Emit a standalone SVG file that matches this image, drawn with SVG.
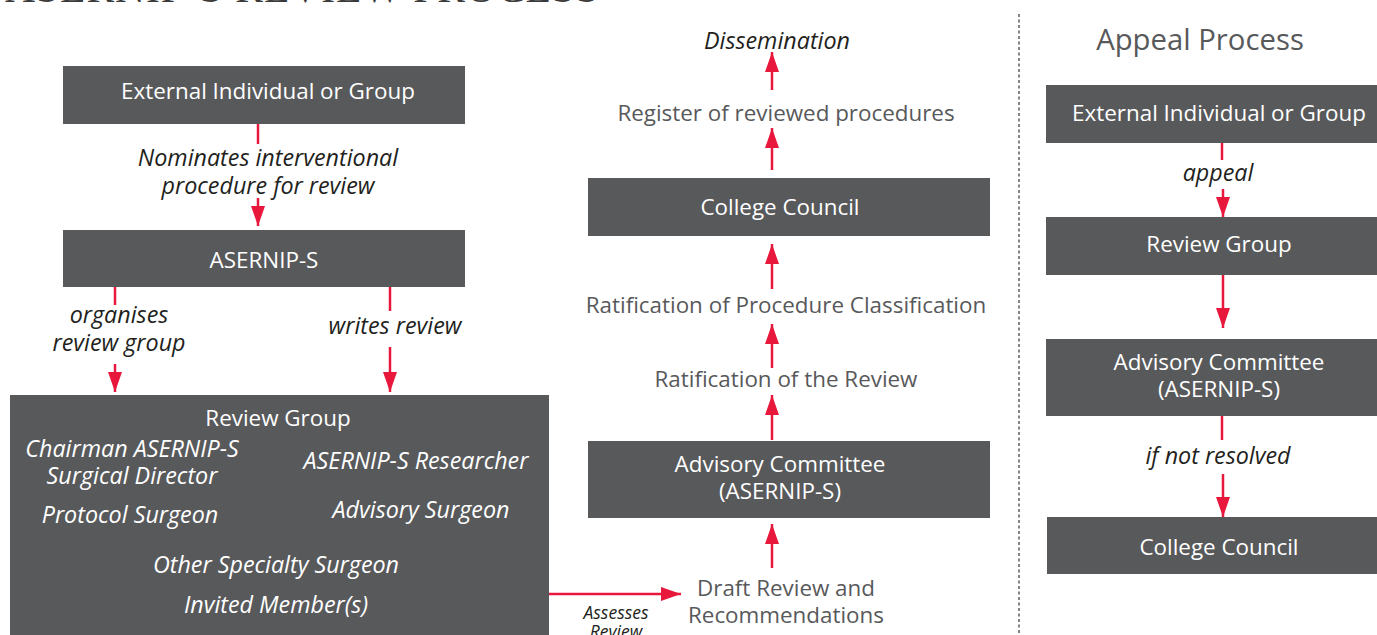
<svg xmlns="http://www.w3.org/2000/svg" width="1377" height="635" viewBox="0 0 1377 635">
<style>
.box{fill:#58595b}
.t{font-family:"Open Sans","Noto Sans","Liberation Sans",sans-serif;font-size:22.4px;text-anchor:middle}
.w{fill:#ffffff}
.g{fill:#58595b}
.i{font-style:italic;fill:#231f20;font-size:23.3px}
.iw{font-style:italic;fill:#ffffff;font-size:23.3px}
.ln{stroke:#e8183d;stroke-width:2.5;fill:none}
</style>
<defs>
<marker id="ah" viewBox="0 0 20 14" refX="20" refY="7" markerWidth="20" markerHeight="14" markerUnits="userSpaceOnUse" orient="auto">
<path d="M0,0 L20,7 L0,14 Z" fill="#e8183d"/>
</marker>
</defs>
<text x="5" y="2" style="font-family:'Liberation Serif',serif;font-size:41.5px;fill:#3a3a3a;letter-spacing:1px">ASERNIP-S REVIEW PROCESS</text>

<line x1="1019" y1="14" x2="1019" y2="635" stroke="#333" stroke-width="1.2" stroke-dasharray="3,2.5"/>

<g id="connectors">
<line class="ln" x1="258" y1="124" x2="258" y2="144"/>
<line class="ln" x1="258" y1="198" x2="258" y2="226" marker-end="url(#ah)"/>
<line class="ln" x1="115" y1="287" x2="115" y2="305"/>
<line class="ln" x1="115" y1="364" x2="115" y2="392" marker-end="url(#ah)"/>
<line class="ln" x1="390" y1="287" x2="390" y2="311"/>
<line class="ln" x1="390" y1="347" x2="390" y2="392" marker-end="url(#ah)"/>
<line class="ln" x1="549" y1="594" x2="681" y2="594" marker-end="url(#ah)"/>
<line class="ln" x1="772" y1="568" x2="772" y2="524" marker-end="url(#ah)"/>
<line class="ln" x1="772" y1="440" x2="772" y2="395" marker-end="url(#ah)"/>
<line class="ln" x1="772" y1="368" x2="772" y2="324" marker-end="url(#ah)"/>
<line class="ln" x1="772" y1="289" x2="772" y2="244" marker-end="url(#ah)"/>
<line class="ln" x1="772" y1="170" x2="772" y2="128" marker-end="url(#ah)"/>
<line class="ln" x1="772" y1="90" x2="772" y2="52" marker-end="url(#ah)"/>
<line class="ln" x1="1222" y1="143" x2="1222" y2="160"/>
<line class="ln" x1="1223" y1="189" x2="1223" y2="217" marker-end="url(#ah)"/>
<line class="ln" x1="1223" y1="275" x2="1223" y2="328" marker-end="url(#ah)"/>
<line class="ln" x1="1222" y1="416" x2="1222" y2="440"/>
<line class="ln" x1="1223" y1="474" x2="1223" y2="517" marker-end="url(#ah)"/>
<text class="t i" x="268" y="166">Nominates interventional</text>
<text class="t i" x="268" y="194">procedure for review</text>
<text class="t i" x="119" y="323">organises</text>
<text class="t i" x="119" y="351">review group</text>
<text class="t i" x="395" y="334">writes review</text>
<text class="t i" x="616" y="619" style="font-size:17.5px">Assesses</text>
<text class="t i" x="616" y="638" style="font-size:17.5px">Review</text>
<text class="t i" x="1218" y="181">appeal</text>
<text class="t i" x="1218" y="464">if not resolved</text>
</g>

<g id="n-ext"><rect class="box" x="63" y="66" width="402" height="58"/><text class="t w" x="268" y="99">External Individual or Group</text></g>
<g id="n-asernip"><rect class="box" x="63" y="230" width="402" height="57"/><text class="t w" x="264" y="268">ASERNIP-S</text></g>
<g id="n-review-group">
<rect class="box" x="10" y="395" width="539" height="240"/>
<text class="t w" x="278" y="426">Review Group</text>
<text class="t iw" x="132" y="457">Chairman ASERNIP-S</text>
<text class="t iw" x="132" y="484">Surgical Director</text>
<text class="t iw" x="416" y="469">ASERNIP-S Researcher</text>
<text class="t iw" x="130" y="523">Protocol Surgeon</text>
<text class="t iw" x="421" y="518">Advisory Surgeon</text>
<text class="t iw" x="276" y="573">Other Specialty Surgeon</text>
<text class="t iw" x="276" y="613">Invited Member(s)</text>
</g>
<g id="n-draft"><text class="t g" x="786" y="596">Draft Review and</text><text class="t g" x="786" y="623">Recommendations</text></g>
<g id="n-advisory"><rect class="box" x="588" y="441" width="402" height="77"/><text class="t w" x="780" y="472">Advisory Committee</text><text class="t w" x="780" y="499">(ASERNIP-S)</text></g>
<g id="n-rat-review"><text class="t g" x="786" y="387">Ratification of the Review</text></g>
<g id="n-rat-class"><text class="t g" x="786" y="313">Ratification of Procedure Classification</text></g>
<g id="n-council"><rect class="box" x="588" y="178" width="402" height="58"/><text class="t w" x="780" y="215">College Council</text></g>
<g id="n-register"><text class="t g" x="786" y="121">Register of reviewed procedures</text></g>
<g id="n-dissemination"><text class="t i" x="777" y="49">Dissemination</text></g>

<text class="t g" x="1200" y="50" style="font-size:29.3px">Appeal Process</text>
<g id="a-ext"><rect class="box" x="1046" y="85" width="331" height="58"/><text class="t w" x="1219" y="121">External Individual or Group</text></g>
<g id="a-review"><rect class="box" x="1046" y="217" width="331" height="58"/><text class="t w" x="1219" y="252">Review Group</text></g>
<g id="a-advisory"><rect class="box" x="1046" y="339" width="331" height="77"/><text class="t w" x="1219" y="370">Advisory Committee</text><text class="t w" x="1219" y="397">(ASERNIP-S)</text></g>
<g id="a-council"><rect class="box" x="1047" y="517" width="330" height="57"/><text class="t w" x="1219" y="555">College Council</text></g>
</svg>
